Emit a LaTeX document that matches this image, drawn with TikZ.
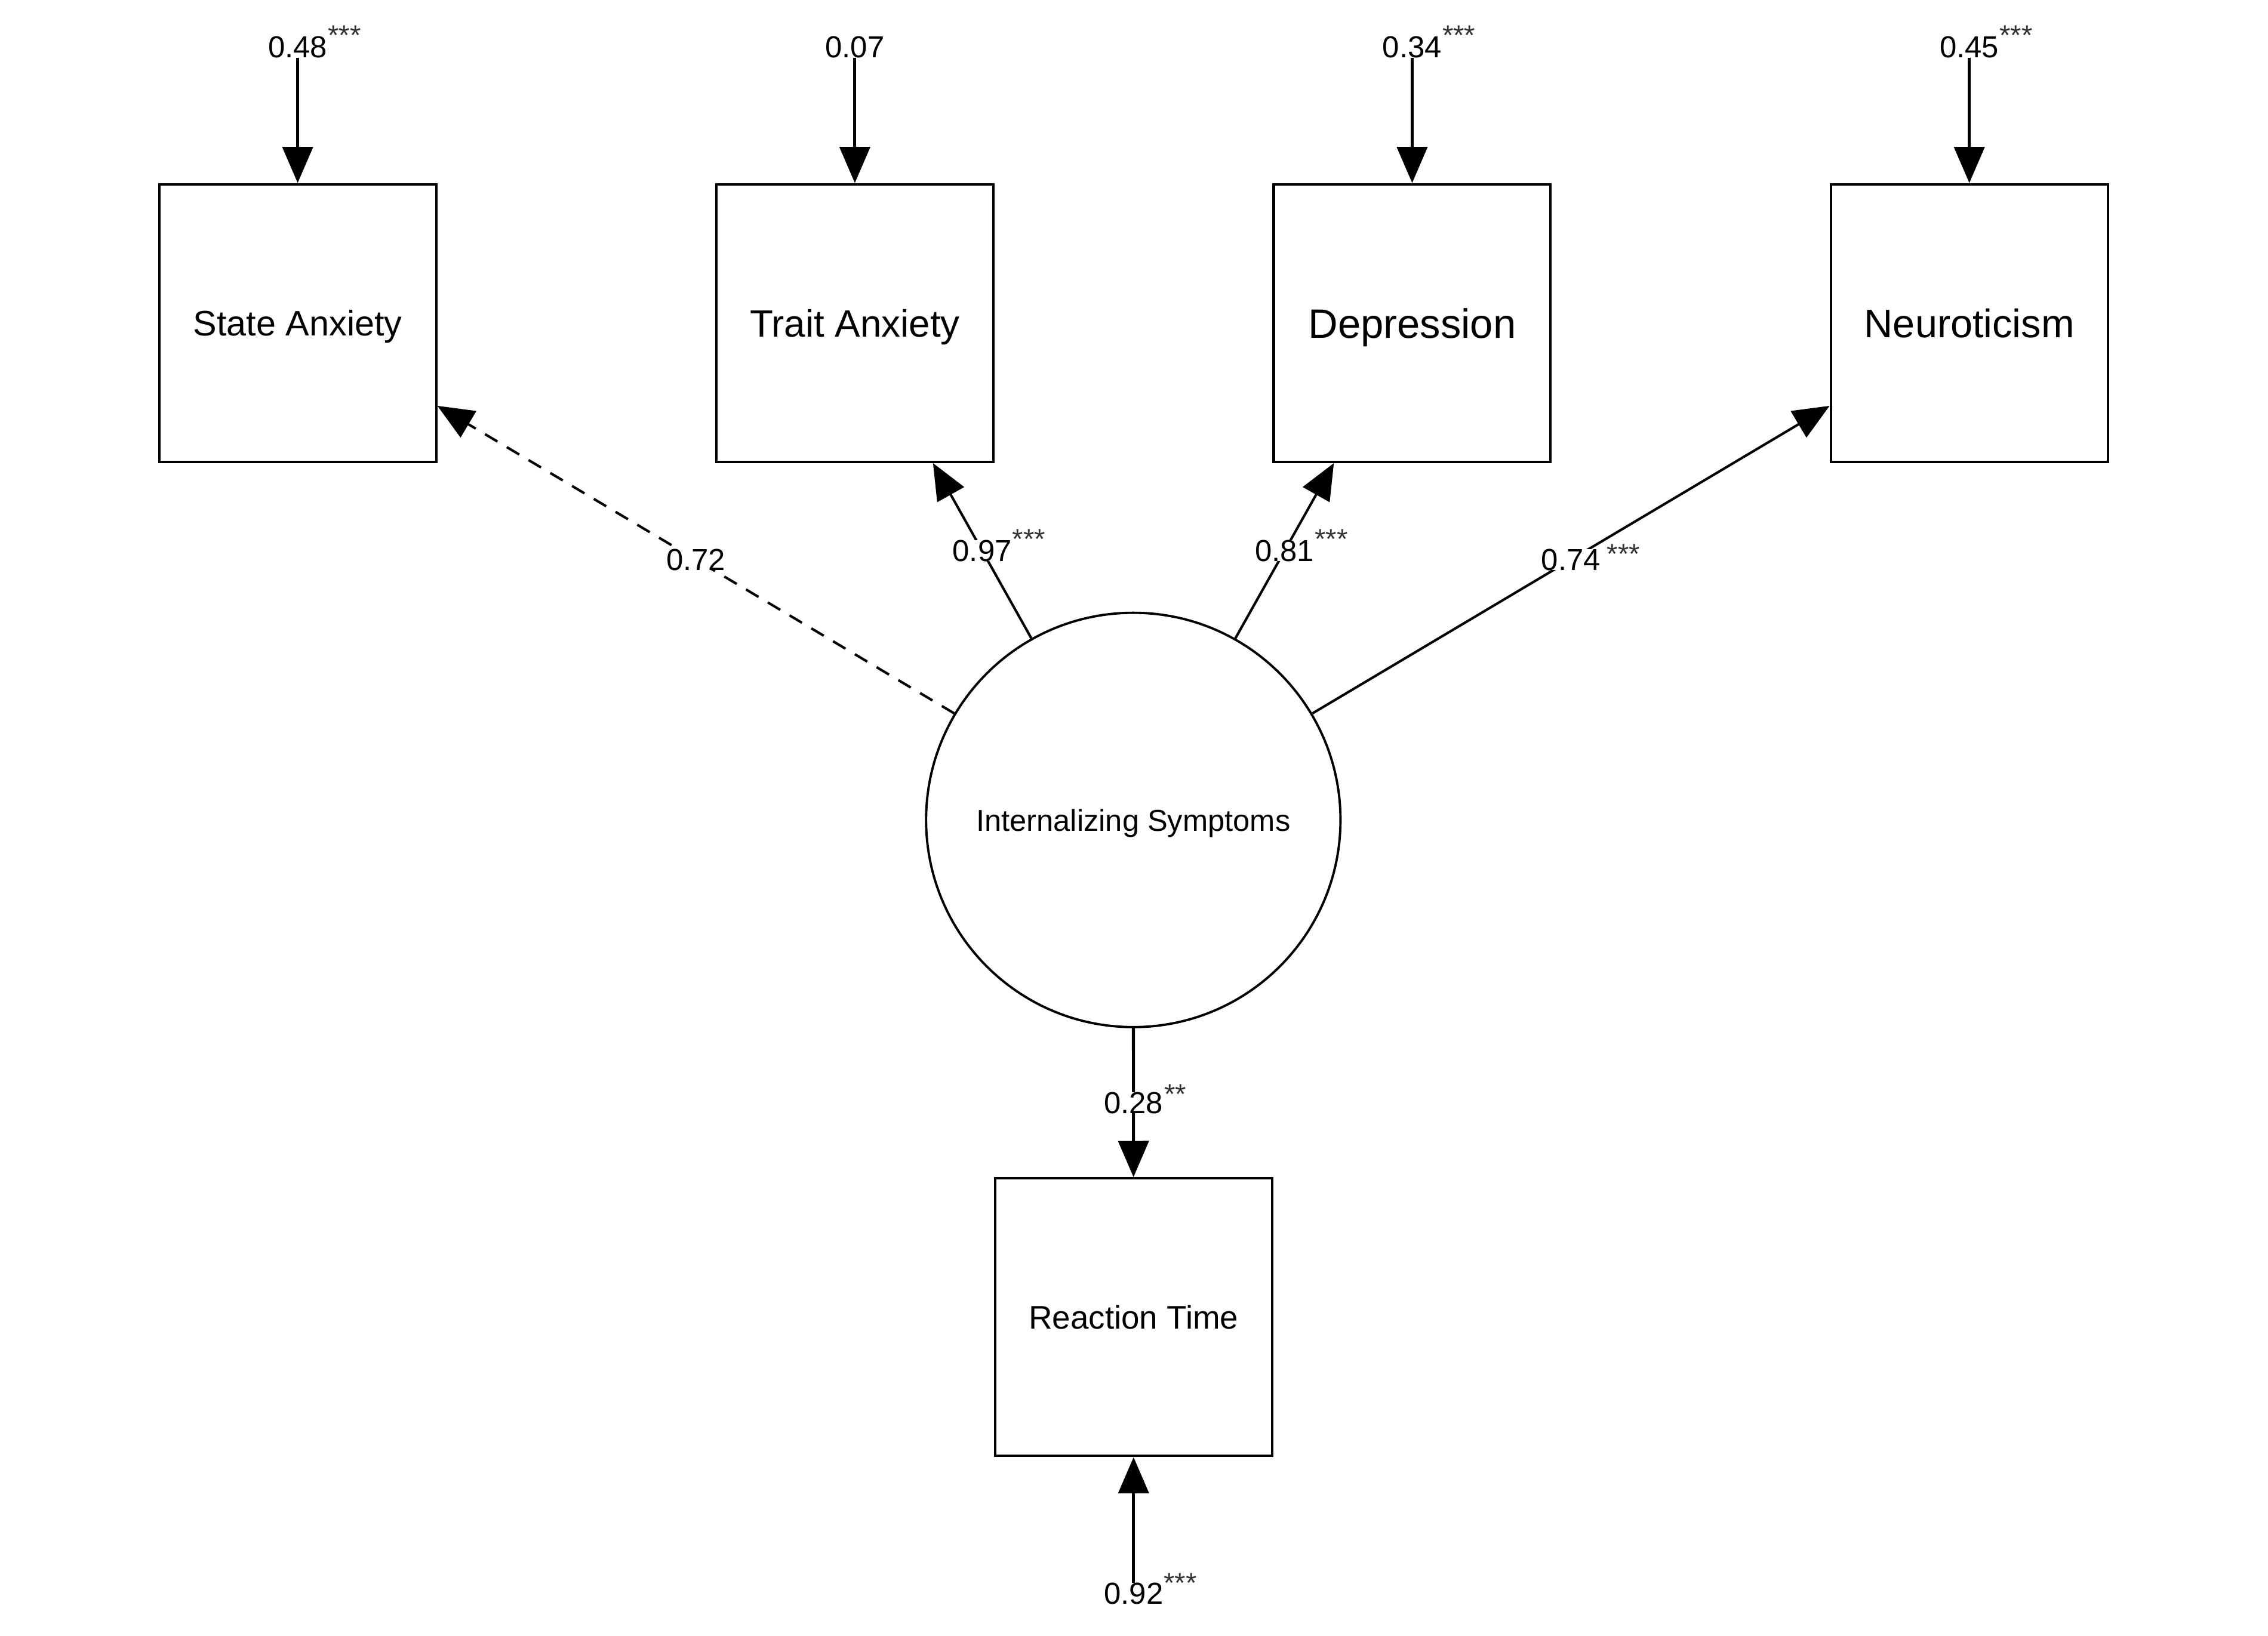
\documentclass[tikz,border=0pt]{standalone}
\usepackage{fontspec}
\setmainfont{Liberation Sans}
\usetikzlibrary{arrows.meta}
\definecolor{stargray}{HTML}{333333}
\newcommand\starsup[3]{\smash{\rlap{\kern#2pt\raisebox{#3pt}{\fontsize{19.5}{20}\selectfont\color{stargray}#1}}}}
\begin{document}
\begin{tikzpicture}[x=1pt,y=-1pt,
 obs/.style={draw, line width=1.7pt, minimum width=191.5pt, minimum height=192pt, inner sep=0pt, text depth=0pt},
 lat/.style={draw, circle, line width=1.6pt, minimum size=286.5pt, inner sep=0pt, font=\fontsize{20.9}{24}\selectfont, text depth=0pt},
 num/.style={inner sep=0pt, fill=white, font=\fontsize{21}{24}\selectfont, text depth=0pt},
 tipend/.style={-{Triangle[length=25pt,width=21pt]}},
 res/.style={tipend, line width=2.1pt},
 load/.style={tipend, line width=1.7pt}]
\fill[white] (0,0) rectangle (1568,1131);
\useasboundingbox (0,0) rectangle (1568,1131);

\node[obs, font=\fontsize{24.5}{28}\selectfont] (SA) at (205.8,223.4) {State Anxiety};
\node[obs, font=\fontsize{26.3}{30}\selectfont] (TA) at (591,223.4) {Trait Anxiety};
\node[obs, font=\fontsize{28.4}{32}\selectfont] (DE) at (976.3,223.4) {Depression};
\node[obs, font=\fontsize{27.5}{31}\selectfont] (NE) at (1361.5,223.4) {Neuroticism};
\node[obs, font=\fontsize{22.6}{26}\selectfont] (RT) at (783.7,910.8) {Reaction Time};
\node[lat] (IS) at (783.5,567) {Internalizing Symptoms};

\node[num] (eSA) at (205.8,32.4) {0.48\starsup{***}{0.5}{8.5}};
\node[num] (eTA) at (591,32.4) {0.07};
\node[num] (eDE) at (976.3,32.4) {0.34\starsup{***}{0.5}{8.5}};
\node[num] (eNE) at (1361.5,32.4) {0.45\starsup{***}{0.5}{8.5}};
\node[num] (eRT) at (783.7,1102) {0.92\starsup{***}{0.5}{8}};

\draw[res] (eSA) -- (SA);
\draw[res] (eTA) -- (TA);
\draw[res] (eDE) -- (DE);
\draw[res] (eNE) -- (NE);
\draw[res] (eRT) -- (RT);

\draw[load, dash pattern=on 10pt off 7.5pt] (IS) -- node[num] {0.72} (SA);
\draw[load] (IS) -- node[num] {0.97\starsup{***}{0.5}{8.5}} (TA);
\draw[load] (IS) -- node[num] {0.81\starsup{***}{0.5}{8.5}} (DE);
\draw[load] (IS) -- node[num] {0.74\starsup{***}{4.5}{4.4}} (NE);
\draw[res] (IS) -- node[num] {0.28\starsup{**}{1}{6.5}} (RT);
\end{tikzpicture}
\end{document}
